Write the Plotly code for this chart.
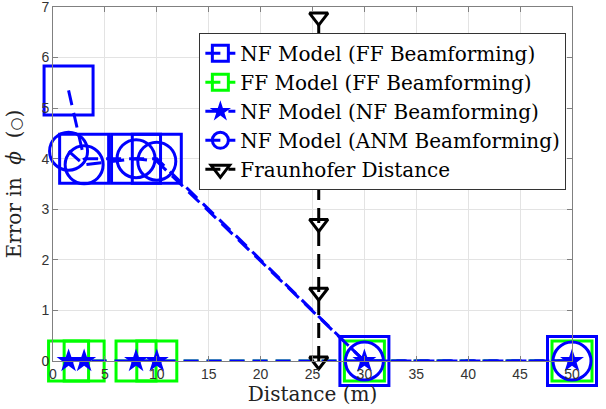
import plotly.graph_objects as go

# ---- data ----
distance = [1.5, 3, 8, 10, 30, 50]
nf_model_ff_bf = [5.35, 4.0, 4.0, 4.0, 0, 0]
ff_model_ff_bf = [0, 0, 0, 0, 0, 0]
nf_model_nf_bf = [0, 0, 0, 0, 0, 0]
nf_model_anm_bf = [4.15, 3.88, 4.0, 3.95, 0, 0]
fraunhofer_x = [25.6, 25.6, 25.6, 25.6, 25.6, 25.6]
fraunhofer_y = [0, 1.36, 2.72, 4.08, 5.44, 6.8]

x_ticks = [0, 5, 10, 15, 20, 25, 30, 35, 40, 45, 50]
y_ticks = [0, 1, 2, 3, 4, 5, 6, 7]

BLUE = "#0000ff"
GREEN = "#00ff00"
DASH = "15px,8px"

fig = go.Figure()

fig.add_trace(go.Scatter(
    x=distance, y=nf_model_ff_bf, mode="lines+markers",
    name="NF Model (FF Beamforming)",
    line=dict(color=BLUE, width=3, dash=DASH),
    marker=dict(symbol="square-open", size=49, color=BLUE, line=dict(width=3, color=BLUE)),
    cliponaxis=False,
))
fig.add_trace(go.Scatter(
    x=distance, y=ff_model_ff_bf, mode="lines+markers",
    name="FF Model (FF Beamforming)",
    line=dict(color=GREEN, width=3, dash=DASH),
    marker=dict(symbol="square-open", size=40, color=GREEN, line=dict(width=3, color=GREEN)),
    cliponaxis=False,
))
fig.add_trace(go.Scatter(
    x=distance, y=nf_model_nf_bf, mode="lines+markers",
    name="NF Model (NF Beamforming)",
    line=dict(color=BLUE, width=3, dash=DASH),
    marker=dict(symbol="star", size=18, color=BLUE, line=dict(width=0)),
    cliponaxis=False,
))
fig.add_trace(go.Scatter(
    x=distance, y=nf_model_anm_bf, mode="lines+markers",
    name="NF Model (ANM Beamforming)",
    line=dict(color=BLUE, width=3, dash=DASH),
    marker=dict(symbol="circle-open", size=38, color=BLUE, line=dict(width=3, color=BLUE)),
    cliponaxis=False,
))
fig.add_trace(go.Scatter(
    x=fraunhofer_x, y=fraunhofer_y, mode="lines+markers",
    name="Fraunhofer Distance",
    line=dict(color="black", width=3, dash=DASH),
    marker=dict(symbol="triangle-down-open", size=16, color="black", line=dict(width=3, color="black")),
    cliponaxis=False,
))

axis_common = dict(
    showgrid=True, gridcolor="#e3e3e3", gridwidth=1,
    showline=True, linecolor="#808080", linewidth=1, mirror="ticks",
    ticks="inside", ticklen=5, tickcolor="#808080",
    tickfont=dict(family="Liberation Sans, Arial, sans-serif", size=14, color="#333333"),
    zeroline=False, automargin=False, ticklabeloverflow="allow",
)

fig.update_xaxes(
    range=[0, 50], tickvals=x_ticks, ticktext=[str(v) for v in x_ticks],
    title=dict(text="Distance (m)", font=dict(family="DejaVu Serif", size=20, color="#222222"), standoff=0),
    **axis_common,
)
fig.update_yaxes(
    range=[0, 7], tickvals=y_ticks, ticktext=[str(v) for v in y_ticks],
    title=dict(text="Error in  <i>ϕ</i>  (<span style=\"font-size:15px\">○</span>)\u00a0\u00a0\u00a0\u00a0",
               font=dict(family="DejaVu Serif", size=20, color="#222222"), standoff=14),
    **axis_common,
)

fig.update_layout(
    width=606, height=409,
    margin=dict(l=53, r=34, t=7, b=48),
    plot_bgcolor="white", paper_bgcolor="white",
    showlegend=True,
    legend=dict(
        x=0.282, xanchor="left", y=0.927, yanchor="top",
        bgcolor="white", bordercolor="#333333", borderwidth=1,
        font=dict(family="DejaVu Serif", size=20, color="black"),
        itemwidth=30, tracegroupgap=0,
    ),
)

fig.write_html("out.html", config={"displayModeBar": False},
               post_script="document.body.style.margin='0';")
